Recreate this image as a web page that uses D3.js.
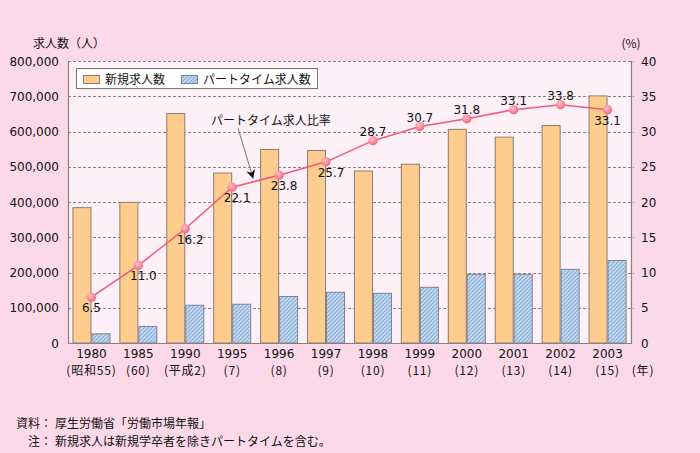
<!DOCTYPE html>
<html><head><meta charset="utf-8">
<script src="https://cdn.jsdelivr.net/npm/d3@7/dist/d3.min.js"></script>
<style>
html,body{margin:0;padding:0;background:#fcd9e9;}
svg{display:block;font-family:"DejaVu Sans","Noto Sans CJK JP",sans-serif;}
.jp{font-family:"Noto Sans CJK JP",sans-serif;}
</style></head>
<body>
<svg id="c" width="700" height="453"></svg>
<script>
const years = ["1980","1985","1990","1995","1996","1997","1998","1999","2000","2001","2002","2003"];
const eraLabels = ["(昭和55)","(60)","(平成2)","(7)","(8)","(9)","(10)","(11)","(12)","(13)","(14)","(15)"];
const newJobs = [384000,399000,651000,482000,549000,546000,488000,507000,606000,584000,617000,701000];
const partJobs = [26000,47000,107000,110000,132000,144000,141000,158000,195000,195000,209000,234000];
const partRatio = [6.5,11.0,16.2,22.1,23.8,25.7,28.7,30.7,31.8,33.1,33.8,33.1];
const leftTicks = [0,100000,200000,300000,400000,500000,600000,700000,800000];
const rightTicks = [0,5,10,15,20,25,30,35,40];
const seriesNames = ["新規求人数","パートタイム求人数"];
const lineName = "パートタイム求人比率";
const notes = [["資料：","厚生労働省「労働市場年報」"],["注：","新規求人は新規学卒者を除きパートタイムを含む。"]];

const svg = d3.select("#c");
const L = 68, R = 631, T = 61, B = 343;

const defs = svg.append("defs");
const pat = defs.append("pattern").attr("id","hatch").attr("patternUnits","userSpaceOnUse")
  .attr("width",4).attr("height",4);
pat.append("rect").attr("width",4).attr("height",4).attr("fill","#c8ddf2");
pat.append("path").attr("d","M-1,1 l2,-2 M0,4 l4,-4 M3,5 l2,-2")
  .attr("stroke","#8fb2da").attr("stroke-width",1.3);
const rg = defs.append("radialGradient").attr("id","dot").attr("cx","40%").attr("cy","35%").attr("r","65%");
rg.append("stop").attr("offset","0%").attr("stop-color","#ffc4cc");
rg.append("stop").attr("offset","100%").attr("stop-color","#f1667c");
defs.append("marker").attr("id","arr").attr("viewBox","0 0 10 10").attr("refX",9).attr("refY",5)
  .attr("markerWidth",9).attr("markerHeight",9).attr("markerUnits","userSpaceOnUse").attr("orient","auto")
  .append("path").attr("d","M0,0 L10,5 L0,10 L3,5 z").attr("fill","#111");

const x = d3.scaleBand().domain(years).range([L,R]).paddingInner(0.19).paddingOuter(0.095);
const xs = d3.scaleBand().domain([0,1]).range([0,x.bandwidth()]);
const y = d3.scaleLinear().domain([0,800000]).range([B,T]);
const y2 = d3.scaleLinear().domain([0,40]).range([B,T]);

// plot bg
svg.append("rect").attr("x",L).attr("y",T).attr("width",R-L).attr("height",B-T).attr("fill","#fdf0f6");

// grid
svg.append("g").selectAll("line").data(leftTicks.filter(d=>d>0)).join("line")
  .attr("x1",L).attr("x2",R+3).attr("y1",d=>Math.round(y(d))+0.5).attr("y2",d=>Math.round(y(d))+0.5)
  .attr("stroke","#8a8080").attr("stroke-width",1).attr("stroke-dasharray","3,2");

// bars
const g = svg.append("g");
g.selectAll("rect.n").data(newJobs).join("rect").attr("class","n")
  .attr("x",(d,i)=>x(years[i])+xs(0)+0.5).attr("width",xs.bandwidth()-1)
  .attr("y",d=>y(d)).attr("height",d=>B-y(d))
  .attr("fill","#fecc8c").attr("stroke","#8c7c74").attr("stroke-width",1);
g.selectAll("rect.p").data(partJobs).join("rect").attr("class","p")
  .attr("x",(d,i)=>x(years[i])+xs(1)+0.5).attr("width",xs.bandwidth()-1)
  .attr("y",d=>y(d)).attr("height",d=>B-y(d))
  .attr("fill","url(#hatch)").attr("stroke","#7f8290").attr("stroke-width",1);

// frame
svg.append("path").attr("d",`M${L+0.5},${T} V${B+0.5} H${R+0.5} V${T}`)
  .attr("fill","none").attr("stroke","#8a8080").attr("stroke-width",1.2);

// line
const cx = i => x(years[i]) + x.bandwidth()/2;
svg.append("path").datum(partRatio)
  .attr("d",d3.line().x((d,i)=>cx(i)).y(d=>y2(d)))
  .attr("fill","none").attr("stroke","#f25a76").attr("stroke-width",1.5);
svg.append("g").selectAll("circle").data(partRatio).join("circle")
  .attr("cx",(d,i)=>cx(i)).attr("cy",d=>y2(d)).attr("r",4.6).attr("fill","url(#dot)");
svg.append("g").selectAll("text").data(partRatio).join("text")
  .attr("x",(d,i)=>cx(i) + ((i>0 && i<6) ? 5 : 0))
  .attr("y",(d,i)=>y2(d) + ((i<6 || i===partRatio.length-1) ? 15 : -5))
  .attr("text-anchor","middle").attr("font-size",12).attr("fill","#111")
  .text(d=>d.toFixed(1));

// axes labels
svg.append("g").selectAll("text").data(leftTicks).join("text")
  .attr("x",59).attr("y",d=>y(d)+4.5).attr("text-anchor","end").attr("font-size",12).attr("fill","#111")
  .text(d=>d3.format(",")(d));
svg.append("g").selectAll("text").data(rightTicks).join("text")
  .attr("x",641).attr("y",d=>y2(d)+4.5).attr("text-anchor","start").attr("font-size",12).attr("fill","#111")
  .text(d=>d);
svg.append("g").selectAll("text").data(years).join("text")
  .attr("x",d=>x(d)+x.bandwidth()/2).attr("y",358).attr("text-anchor","middle")
  .attr("font-size",12).attr("fill","#111").text(d=>d);
svg.append("g").selectAll("text").data(eraLabels).join("text").attr("class","jp")
  .attr("x",(d,i)=>x(years[i])+x.bandwidth()/2).attr("y",375).attr("text-anchor","middle")
  .attr("font-size",12).attr("letter-spacing",0.8).attr("fill","#111").text(d=>d);
svg.append("text").attr("class","jp").attr("x",643).attr("y",375).attr("text-anchor","middle")
  .attr("font-size",12).attr("letter-spacing",0.8).attr("fill","#111").text("(年)");
svg.append("text").attr("class","jp").attr("x",33).attr("y",47.5).attr("font-size",12).attr("fill","#111").text("求人数（人）");
svg.append("text").attr("class","jp").attr("x",631).attr("y",47.5).attr("text-anchor","middle").attr("font-size",12).attr("fill","#111").text("(%)");

// legend
const lg = svg.append("g");
lg.append("rect").attr("x",76.5).attr("y",68.5).attr("width",241).attr("height",20)
  .attr("fill","#ffffff").attr("stroke","#777").attr("stroke-width",1);
lg.append("rect").attr("x",83.5).attr("y",75.5).attr("width",16).attr("height",8)
  .attr("fill","#fecc8c").attr("stroke","#8c7c74");
lg.append("text").attr("class","jp").attr("x",105).attr("y",83.5).attr("font-size",12).attr("fill","#111").text(seriesNames[0]);
lg.append("rect").attr("x",181.5).attr("y",75.5).attr("width",16).attr("height",8)
  .attr("fill","url(#hatch)").attr("stroke","#7f8290");
lg.append("text").attr("class","jp").attr("x",203).attr("y",83.5).attr("font-size",12).attr("fill","#111").text(seriesNames[1]);

// annotation
svg.append("text").attr("class","jp").attr("x",211).attr("y",125).attr("font-size",12).attr("fill","#111").text(lineName);
svg.append("line").attr("x1",238).attr("y1",128).attr("x2",253).attr("y2",178)
  .attr("stroke","#777").attr("stroke-width",1).attr("marker-end","url(#arr)");

// notes
notes.forEach((n,i)=>{
  svg.append("text").attr("class","jp").attr("x",52).attr("y",428+i*18).attr("text-anchor","end")
    .attr("font-size",12).attr("fill","#111").text(n[0]);
  svg.append("text").attr("class","jp").attr("x",55).attr("y",428+i*18)
    .attr("font-size",12).attr("fill","#111").text(n[1]);
});
</script>
</body></html>
